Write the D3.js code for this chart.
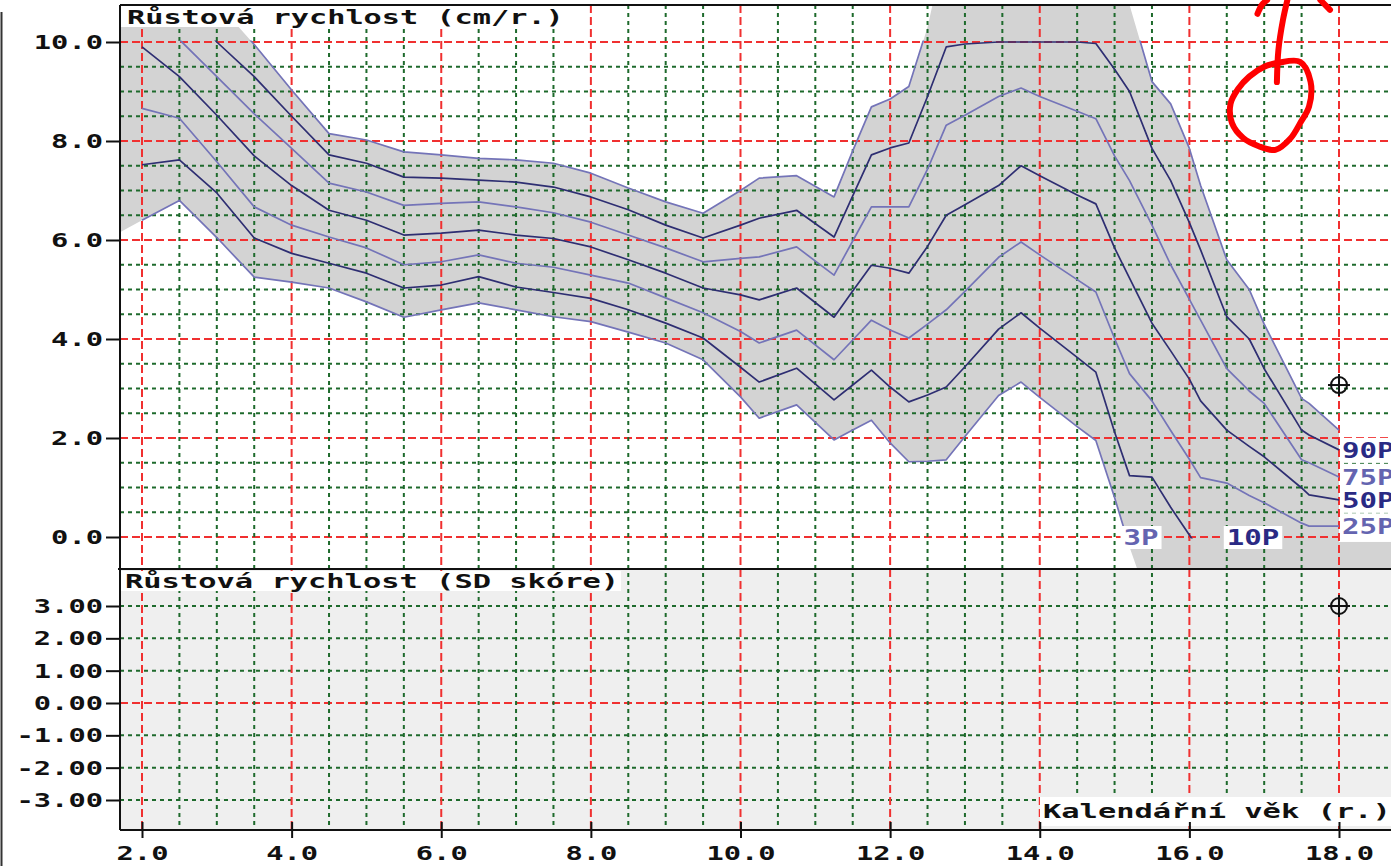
<!DOCTYPE html>
<html>
<head>
<meta charset="utf-8">
<script src="https://cdn.jsdelivr.net/npm/d3@7"></script>
<style>
body { margin: 0; background: #fff; overflow: hidden; }
</style>
</head>
<body>
<script>
var W = 1391, H = 866

// growth velocity percentiles (cm/yr)
var ages = [1.7, 2, 2.5, 3, 3.5, 4, 4.5, 5, 5.5, 6, 6.5, 7, 7.5, 8, 8.5, 9, 9.5, 10, 10.25, 10.75, 11.25, 11.5, 11.75, 12, 12.25, 12.5, 12.75, 13, 13.45, 13.75, 14, 14.5, 14.75, 15, 15.2, 15.5, 15.75, 16, 16.15, 16.5, 16.8, 17, 17.5, 17.6, 18]
var p3  = [6.15, 6.4, 6.8, 6.05, 5.25, 5.15, 5.03, 4.75, 4.44, 4.59, 4.73, 4.59, 4.45, 4.35, 4.14, 3.92, 3.58, 2.83, 2.4, 2.67, 1.96, 2.16, 2.36, 1.9, 1.52, 1.53, 1.56, 2.03, 2.86, 3.13, 2.82, 2.23, 1.95, 0.8, -0.2, -1.5, -1.5, -1.5, -1.5, -1.5, -1.5, -1.5, -1.5, -1.5, -1.5]
var p10 = [7.4, 7.52, 7.62, 6.95, 6.04, 5.73, 5.53, 5.33, 5.03, 5.09, 5.26, 5.05, 4.94, 4.82, 4.59, 4.32, 4.02, 3.43, 3.13, 3.41, 2.77, 3.07, 3.37, 3.03, 2.73, 2.87, 3.03, 3.44, 4.2, 4.53, 4.22, 3.63, 3.33, 2.12, 1.24, 1.21, 0.6, 0.04, -0.3, -1, -1.5, -1.5, -1.5, -1.5, -1.5]
var p25 = [8.7, 8.66, 8.46, 7.58, 6.67, 6.3, 6.06, 5.84, 5.5, 5.56, 5.7, 5.53, 5.45, 5.29, 5.13, 4.83, 4.53, 4.15, 3.92, 4.18, 3.58, 3.98, 4.38, 4.18, 4.02, 4.3, 4.59, 4.96, 5.65, 5.96, 5.7, 5.2, 4.95, 4.01, 3.3, 2.75, 2.15, 1.57, 1.2, 1.09, 0.84, 0.69, 0.28, 0.22, 0.22]
var p50 = [10.3, 9.9, 9.3, 8.52, 7.7, 7.1, 6.6, 6.4, 6.1, 6.14, 6.2, 6.1, 6.03, 5.86, 5.6, 5.33, 5.03, 4.89, 4.79, 5.03, 4.44, 4.97, 5.49, 5.43, 5.33, 5.87, 6.5, 6.71, 7.1, 7.5, 7.3, 6.91, 6.73, 5.84, 5.23, 4.32, 3.76, 3.19, 2.75, 2.16, 1.83, 1.62, 0.99, 0.85, 0.75]
var p75 = [11.3, 11.0, 10.05, 9.3, 8.55, 7.85, 7.15, 6.97, 6.7, 6.74, 6.77, 6.67, 6.55, 6.36, 6.1, 5.84, 5.56, 5.63, 5.66, 5.86, 5.29, 5.98, 6.67, 6.67, 6.67, 7.43, 8.32, 8.52, 8.9, 9.07, 8.9, 8.6, 8.45, 7.7, 7.2, 6.3, 5.5, 4.8, 4.38, 3.4, 2.95, 2.7, 1.56, 1.5, 1.21]
var p90 = [12.2, 11.8, 10.9, 10.0, 9.3, 8.5, 7.72, 7.55, 7.27, 7.25, 7.21, 7.17, 7.07, 6.87, 6.61, 6.3, 6.04, 6.3, 6.44, 6.6, 6.06, 6.89, 7.72, 7.86, 7.96, 8.9, 9.9, 9.96, 10.0, 10.0, 10.0, 10.0, 9.97, 9.45, 9.0, 7.85, 7.2, 6.35, 5.8, 4.45, 4.0, 3.4, 2.16, 2.06, 1.76]
var p97 = [13, 12.6, 11.7, 10.8, 9.95, 9.03, 8.15, 8.02, 7.78, 7.72, 7.65, 7.62, 7.55, 7.35, 7.05, 6.77, 6.54, 7.0, 7.25, 7.3, 6.87, 7.8, 8.69, 8.85, 9.1, 10.3, 12, 12, 12, 12, 12, 12, 11.8, 11.5, 10.75, 9.2, 8.75, 7.85, 7.1, 5.6, 5.0, 4.3, 2.8, 2.7, 2.16]

var pctNames = ["3P", "10P", "25P", "50P", "75P", "90P", "97P"]
var pctValues = [p3, p10, p25, p50, p75, p90, p97]
var endLabels = ["90P", "75P", "50P", "25P"]
var zeroLabels = ["3P", "10P"]
var zeroLabelAges = [15.12, 16.5]

var cmTicks = [0, 2, 4, 6, 8, 10]
var sdTicks = [-3, -2, -1, 0, 1, 2, 3]
var ageTicks = [2, 4, 6, 8, 10, 12, 14, 16, 18]

var cmTitle = "Růstová rychlost (cm/r.)"
var sdTitle = "Růstová rychlost (SD skóre)"
var ageTitle = "Kalendářní věk (r.)"

// the patient's measurement
var pointAge = 18, pointCm = 3.07, pointSd = 3.0

// red pen annotation, in chart units (age, cm/yr)
var penRing = [[17.19, 9.58], [17.48, 9.6], [17.62, 9.2], [17.6, 8.7], [17.48, 8.36], [17.35, 8.05], [17.15, 7.82], [16.92, 7.9], [16.72, 8.06], [16.57, 8.36], [16.55, 8.75], [16.65, 9.05], [16.8, 9.3], [17.0, 9.5]]
var penStem = [[17.31, 10.85], [17.25, 10.44], [17.19, 9.84], [17.17, 9.19]]
var penLeft = [[16.91, 10.57], [16.97, 10.75], [17.04, 10.85]]
var penRight = [[17.75, 10.85], [17.88, 10.65]]

var frameLeft = 120, frameTop = 5, frameMid = 569, frameBottom = 830
var dark = "#2e2e72", light = "#7474b8"
var font = "'DejaVu Sans Mono', 'Liberation Mono', monospace"

var x = d3.scaleLinear().domain([2, 18]).range([142, 1339])
var yCm = d3.scaleLinear().domain([0, 10]).range([537, 42])
var ySd = d3.scaleLinear().domain([-3, 3]).range([800, 606])

var rows = ages.map(function(a, i) {
	var r = {age: a}
	pctNames.forEach(function(n, j) { r[n] = pctValues[j][i] })
	return r
})

function mono(sel, size, adv) {
	sel.attr("font-family", font).attr("font-weight", "bold").attr("font-size", size)
		.each(function() {
			d3.select(this).attr("textLength", this.textContent.length * adv).attr("lengthAdjust", "spacingAndGlyphs")
		})
}

var svg = d3.select("body").append("svg")
			.attr("width", W)
			.attr("height", H)
			.style("display", "block")
			.style("background", "#fff")

var defs = svg.append("defs")
defs.append("clipPath").attr("id", "clipTop").append("rect")
	.attr("x", frameLeft).attr("y", frameTop).attr("width", W - frameLeft).attr("height", frameMid - frameTop)
defs.append("clipPath").attr("id", "clipLines").append("rect")
	.attr("x", frameLeft).attr("y", yCm(10) - 1.5).attr("width", W - frameLeft).attr("height", yCm(0) - yCm(10) + 3)

// lower panel background
svg.append("rect")
	.attr("x", frameLeft).attr("y", frameMid)
	.attr("width", W - frameLeft).attr("height", frameBottom - frameMid)
	.attr("fill", "#efefef")

// 3P - 97P band
var band = d3.area()
	.x(function(d) { return x(d.age) })
	.y0(function(d) { return yCm(d["3P"]) })
	.y1(function(d) { return yCm(d["97P"]) })
svg.append("path").datum(rows)
	.attr("d", band)
	.attr("fill", "#d3d3d3")
	.attr("clip-path", "url(#clipTop)")
// shading that runs on under the zero line past the last age
svg.append("rect")
	.attr("x", x(18)).attr("y", yCm(-0.1))
	.attr("width", W - x(18)).attr("height", frameMid - yCm(-0.1))
	.attr("fill", "#d3d3d3")

// grid
var grid = svg.append("g")
var gridAges = d3.range(2, 18.01, 0.5)
var gridCm = d3.range(0, 10.01, 0.5)
function isRed(v) { return Math.abs(v % 2) < 1e-6 }

grid.selectAll(".hcm").data(gridCm).enter().append("line")
	.attr("x1", frameLeft).attr("x2", W)
	.attr("y1", function(d) { return yCm(d) }).attr("y2", function(d) { return yCm(d) })
	.attr("stroke", function(d) { return isRed(d) ? "#f03030" : "#1e6a2c" })
	.attr("stroke-width", 2)
	.attr("stroke-dasharray", function(d) { return isRed(d) ? "8,4" : "4,4" })

grid.selectAll(".hsd").data(sdTicks).enter().append("line")
	.attr("x1", frameLeft).attr("x2", W)
	.attr("y1", function(d) { return ySd(d) }).attr("y2", function(d) { return ySd(d) })
	.attr("stroke", function(d) { return d === 0 ? "#f03030" : "#1e6a2c" })
	.attr("stroke-width", 2)
	.attr("stroke-dasharray", function(d) { return d === 0 ? "8,4" : "4,4" })

grid.selectAll(".v").data(gridAges).enter().append("line")
	.attr("x1", function(d) { return x(d) }).attr("x2", function(d) { return x(d) })
	.attr("y1", frameTop).attr("y2", frameBottom)
	.attr("stroke", function(d) { return isRed(d) ? "#f03030" : "#1e6a2c" })
	.attr("stroke-width", 2)
	.attr("stroke-dasharray", function(d) { return isRed(d) ? "8,4" : "4,4" })

// percentile curves
pctNames.forEach(function(n, j) {
	var line = d3.line()
		.defined(function(d) { return d.age >= 2 })
		.x(function(d) { return x(d.age) })
		.y(function(d) { return yCm(d[n]) })
	svg.append("path").datum(rows)
		.attr("d", line)
		.attr("fill", "none")
		.attr("stroke", j % 2 ? dark : light)
		.attr("stroke-width", 1.7)
		.attr("stroke-linejoin", "round")
		.attr("clip-path", "url(#clipLines)")
})

// curve labels
var last = rows[rows.length - 1]
endLabels.forEach(function(n) {
	var yy = yCm(last[n])
	svg.append("rect").attr("x", x(18) + 1).attr("y", yy - 12).attr("width", 60).attr("height", 25).attr("fill", "#fff")
	svg.append("text").attr("x", x(18) + 3).attr("y", yy + 8)
		.attr("fill", pctNames.indexOf(n) % 2 ? "#2a2a84" : "#6464b0")
		.text(n).call(mono, 21, 17.5)
})
zeroLabels.forEach(function(n, i) {
	var xx = x(zeroLabelAges[i])
	svg.append("rect").attr("x", xx - 3).attr("y", yCm(0) - 11).attr("width", n.length * 17.5 + 6).attr("height", 23).attr("fill", "#fff")
	svg.append("text").attr("x", xx).attr("y", yCm(0) + 8)
		.attr("fill", pctNames.indexOf(n) % 2 ? "#2a2a84" : "#6464b0")
		.text(n).call(mono, 21, 17.5)
})

// panel titles
svg.append("rect").attr("x", frameLeft + 1).attr("y", frameTop + 1).attr("width", 446).attr("height", 21).attr("fill", "#fff")
svg.append("text").attr("x", 127).attr("y", 24).attr("fill", "#111").text(cmTitle).call(mono, 20, 18.2)

svg.append("rect").attr("x", frameLeft + 1).attr("y", frameMid + 2).attr("width", 500).attr("height", 20).attr("fill", "#fff")
svg.append("text").attr("x", 125).attr("y", 588).attr("fill", "#111").text(sdTitle).call(mono, 20, 18.3)

svg.append("rect").attr("x", 1040).attr("y", 797).attr("width", W - 1040).attr("height", 29).attr("fill", "#fff")
svg.append("text").attr("x", 1043).attr("y", 818).attr("fill", "#111").text(ageTitle).call(mono, 20, 18.3)

// frame
var frame = svg.append("g").attr("stroke", "#111").attr("stroke-width", 2)
frame.append("line").attr("x1", frameLeft).attr("x2", frameLeft).attr("y1", frameTop).attr("y2", frameBottom)
frame.append("line").attr("x1", frameLeft).attr("x2", W).attr("y1", frameTop).attr("y2", frameTop)
frame.append("line").attr("x1", frameLeft - 2).attr("x2", W).attr("y1", frameMid).attr("y2", frameMid)
frame.append("line").attr("x1", frameLeft).attr("x2", W).attr("y1", frameBottom).attr("y2", frameBottom)
svg.append("line").attr("x1", 1.5).attr("x2", 1.5).attr("y1", 12).attr("y2", H).attr("stroke", "#333").attr("stroke-width", 2)

// axes
var axCm = svg.append("g").attr("transform", "translate(" + frameLeft + ",0)")
	.call(d3.axisLeft(yCm).tickValues(cmTicks).tickSize(14).tickFormat(d3.format(".1f")))
var axSd = svg.append("g").attr("transform", "translate(" + frameLeft + ",0)")
	.call(d3.axisLeft(ySd).tickValues(sdTicks).tickSize(14)
		.tickFormat(function(d) { return d3.format(".2f")(d).replace("\u2212", "-") }))
var axAge = svg.append("g").attr("transform", "translate(0," + frameBottom + ")")
	.call(d3.axisBottom(x).tickValues(ageTicks).tickSize(8).tickFormat(d3.format(".1f")))

;[axCm, axSd, axAge].forEach(function(ax) {
	ax.select(".domain").remove()
	ax.selectAll(".tick line").attr("stroke", "#111").attr("stroke-width", 2)
	ax.selectAll(".tick text").attr("fill", "#111").call(mono, 20, 17.3)
})
axAge.selectAll(".tick line").attr("y1", -8)
axAge.selectAll(".tick text").attr("y", 16)

// measurement markers
function crossCircle(cx, cy) {
	var g = svg.append("g").attr("stroke", "#111").attr("stroke-width", 2).attr("fill", "none")
	g.append("circle").attr("cx", cx).attr("cy", cy).attr("r", 8)
	g.append("line").attr("x1", cx - 11).attr("x2", cx + 11).attr("y1", cy).attr("y2", cy)
	g.append("line").attr("x1", cx).attr("x2", cx).attr("y1", cy - 11).attr("y2", cy + 11)
}
crossCircle(x(pointAge), yCm(pointCm))
crossCircle(x(pointAge), ySd(pointSd))

// red pen scribble
var pen = d3.line().x(function(d) { return x(d[0]) }).y(function(d) { return yCm(d[1]) })
var penG = svg.append("g").attr("fill", "none").attr("stroke", "#ff0000").attr("stroke-width", 6)
	.attr("stroke-linecap", "round").attr("stroke-linejoin", "round")
penG.append("path").datum(penRing).attr("d", pen.curve(d3.curveCatmullRomClosed))
penG.append("path").datum(penStem).attr("d", pen.curve(d3.curveCatmullRom))
penG.append("path").datum(penLeft).attr("d", pen.curve(d3.curveCatmullRom))
penG.append("path").datum(penRight).attr("d", pen.curve(d3.curveLinear))
</script>
</body>
</html>
